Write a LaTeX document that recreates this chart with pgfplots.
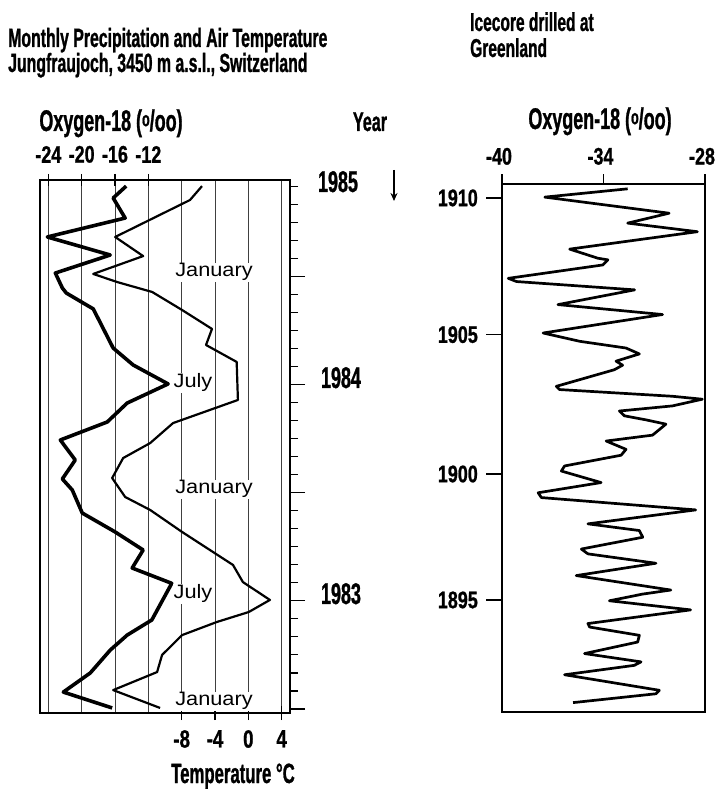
\documentclass[border=0pt]{standalone}
\usepackage{fontspec}
\setmainfont{Liberation Sans}
\newfontfamily\condA{Liberation Sans}[UprightFont={* Bold}, FakeStretch=0.6, FakeBold=0.9]
\newfontfamily\condB{Liberation Sans}[UprightFont={* Bold}, FakeStretch=0.75, FakeBold=0.9]
\newfontfamily\labf{Liberation Sans}[FakeStretch=1.12]
\usepackage{pgfplots}
\pgfplotsset{compat=1.18}
\usetikzlibrary{arrows.meta}
\newcommand{\ca}[1]{\condA\fontsize{#1}{#1}\selectfont}
\newcommand{\cb}[1]{\condB\fontsize{#1}{#1}\selectfont}
\newcommand{\permil}{(\raisebox{0.3ex}{\fontsize{21}{21}\selectfont o}/oo)}
\begin{document}
\begin{tikzpicture}
\path[use as bounding box] (0,0) rectangle (716bp,790bp);

% ---------------- left panel: main axis with data ----------------
\begin{axis}[
  at={(40bp,77bp)}, anchor=south west, scale only axis,
  width=250bp, height=533bp,
  xmin=-25, xmax=5, ymin=-0.22, ymax=29.34,
  xtick={-24,-20,-16,-12,-8,-4,0,4}, xticklabels={},
  xmajorgrids, grid style={black!75, line width=0.8bp},
  xtick style={draw=none},
  ytick={0,...,29}, yticklabels={}, ytick pos=right,
  tick align=outside, major tick length=8bp,
  ytick style={line width=1.1bp, black},
  extra y ticks={0,6,12,18,24}, extra y tick labels={},
  extra y tick style={major tick length=15bp, ytick style={line width=1.3bp}},
  axis line style={line width=2.2bp},
  clip=false,
]
% Oxygen-18 (thick)
\addplot[black, line width=3.6bp, line join=round] coordinates {
(-14.66,29.0) (-16.22,28.34) (-14.78,27.23) (-24.12,26.18) (-16.57,25.18)
(-23.16,24.18) (-22.32,23.35) (-21.84,23.07) (-18.61,22.19) (-16.22,20.02)
(-13.82,19.08) (-9.63,18.03) (-14.54,16.97) (-16.93,15.92) (-22.56,14.92)
(-20.77,13.81) (-22.32,12.76) (-21.13,12.15) (-19.93,10.87) (-15.98,9.82)
(-12.62,8.82) (-13.94,7.82) (-9.19,6.97) (-11.58,4.94) (-14.54,4.10)
(-16.57,3.27) (-18.97,2.0) (-22.2,0.94) (-16.34,0.06)
};
% Air temperature (thin)
\addplot[black, line width=2.2bp, line join=round] coordinates {
(-5.56,29.0) (-7.0,28.23) (-15.98,26.18) (-12.62,25.12) (-18.61,24.13)
(-15.74,23.68) (-11.54,23.13) (-7.95,22.13) (-4.36,21.08) (-5.08,20.19)
(-1.40,19.25) (-1.25,17.14) (-9.03,15.86) (-11.78,14.75) (-15.02,13.92)
(-16.34,12.81) (-14.78,11.76) (-11.78,11.04) (-7.95,9.82) (-1.84,7.99)
(-0.65,7.04) (2.59,6.05) (0.05,5.38) (-3.76,4.83) (-7.95,4.10)
(-10.35,3.0) (-10.95,2.05) (-16.22,1.05) (-10.59,0.06)
};
\end{axis}

% top ticks of left panel (Oxygen-18)
\begin{axis}[
  at={(40bp,77bp)}, anchor=south west, scale only axis,
  width=250bp, height=533bp,
  xmin=-25, xmax=5, ymin=-0.22, ymax=29.34,
  hide y axis, axis line style={line width=2.2bp},
  xtick={-24,-20,-16,-12}, xticklabels={-24,-20,-16,-12},
  xtick pos=upper, xticklabel pos=upper,
  tick align=center, major tick length=12bp,
  xtick style={line width=1.4bp, black},
  xticklabel style={font=\cb{24}, inner sep=0pt, anchor=south, yshift=11bp},
]
\end{axis}

% bottom ticks of left panel (Temperature)
\begin{axis}[
  at={(40bp,77bp)}, anchor=south west, scale only axis,
  width=250bp, height=533bp,
  xmin=-25, xmax=5, ymin=-0.22, ymax=29.34,
  hide y axis, axis line style={line width=2.2bp},
  xtick={-8,-4,0,4}, xticklabels={-8,-4,0,4},
  xtick pos=lower, xticklabel pos=lower,
  tick align=center, major tick length=14bp,
  xtick style={line width=1.4bp, black},
  xticklabel style={font=\cb{25}, inner sep=0pt, anchor=north, yshift=-10bp},
]
\end{axis}

% ---------------- right panel: ice core ----------------
\begin{axis}[
  at={(502bp,78bp)}, anchor=south west, scale only axis,
  width=203bp, height=528bp,
  xmin=-40, xmax=-28, ymin=1890.82, ymax=1910.52,
  axis line style={line width=2bp},
  xtick={-40,-34,-28}, xticklabels={-40,-34,-28},
  xtick pos=upper, xticklabel pos=upper,
  tick align=outside, major tick length=10bp,
  xtick style={line width=1.4bp, black},
  xticklabel style={font=\cb{24}, inner sep=0pt, anchor=south, yshift=9bp, xshift=-3bp},
  ytick=\empty, ytick pos=left,
  extra y ticks={1910,1904.9,1899.7,1895},
  extra y tick labels={1910,1905,1900,1895},
  extra y tick style={major tick length=16bp, ytick style={line width=1.4bp, black},
     yticklabel style={font=\cb{24}, inner sep=0pt, anchor=east, xshift=-8bp}},
  clip=false,
]
\addplot[black, line width=2.7bp, line join=round] coordinates {
(-32.57,1910.34) (-37.47,1910.03) (-30.12,1909.43) (-32.57,1909.06) (-28.45,1908.74)
(-36.0,1908.09) (-34.33,1907.75) (-33.74,1907.69) (-34.04,1907.5) (-39.63,1907.0)
(-39.14,1906.88) (-32.16,1906.57) (-36.69,1906.02) (-30.51,1905.65) (-37.57,1904.96)
(-35.4,1904.65) (-32.67,1904.40) (-31.88,1904.18) (-33.26,1903.91) (-32.87,1903.76)
(-33.36,1903.59) (-36.79,1902.97) (-36.59,1902.85) (-29.93,1902.60) (-28.16,1902.49)
(-29.93,1902.24) (-33.06,1902.05) (-32.76,1901.87) (-31.49,1901.72) (-30.31,1901.56)
(-31.1,1901.15) (-33.84,1900.93) (-32.67,1900.62) (-32.96,1900.40) (-36.3,1900.00)
(-36.49,1899.81) (-34.14,1899.38) (-37.86,1899.00) (-37.67,1898.82) (-28.55,1898.36)
(-34.92,1897.84) (-31.88,1897.59) (-31.68,1897.34) (-35.31,1896.90) (-34.92,1896.72)
(-30.9,1896.37) (-35.61,1895.91) (-30.02,1895.37) (-31.68,1895.22) (-33.65,1894.97)
(-28.85,1894.63) (-34.92,1894.12) (-34.82,1893.99) (-31.88,1893.68) (-31.98,1893.43)
(-35.12,1893.00) (-31.78,1892.69) (-32.18,1892.56) (-36.3,1892.21) (-30.7,1891.63)
(-30.9,1891.50) (-35.8,1891.17)
};
\end{axis}

% ---------------- texts ----------------
\node[anchor=base west, inner sep=0pt, font=\ca{26.5}] at (8bp,743bp) {Monthly Precipitation and Air Temperature};
\node[anchor=base west, inner sep=0pt, font=\ca{26.5}] at (8bp,718bp) {Jungfraujoch, 3450 m a.s.l., Switzerland};
\node[anchor=base west, inner sep=0pt, font=\ca{26}] at (470bp,759bp) {Icecore drilled at};
\node[anchor=base west, inner sep=0pt, font=\ca{26}] at (470bp,733bp) {Greenland};

\node[anchor=base, inner sep=0pt, font=\ca{30}] at (111bp,659bp) {Oxygen-18 \permil};
\node[anchor=base, inner sep=0pt, font=\ca{27}] at (370bp,659bp) {Year};
\node[anchor=base, inner sep=0pt, font=\ca{30}] at (600bp,661bp) {Oxygen-18 \permil};

\node[anchor=base, inner sep=0pt, font=\ca{30}] at (338bp,598bp) {1985};
\node[anchor=base, inner sep=0pt, font=\ca{30}] at (341bp,402bp) {1984};
\node[anchor=base, inner sep=0pt, font=\ca{30}] at (341bp,186bp) {1983};
\draw[line width=1.8bp, -{Stealth[length=8bp,width=7bp]}] (394bp,620bp) -- (394bp,589bp);

\node[anchor=base, inner sep=0pt, font=\ca{28}] at (233bp,7bp) {Temperature °C};

\node[anchor=base, inner sep=1pt, fill=white, font=\labf\fontsize{19.5}{20}\selectfont] at (214bp,513bp) {January};
\node[anchor=base, inner sep=1pt, fill=white, font=\labf\fontsize{19.5}{20}\selectfont] at (193bp,402bp) {July};
\node[anchor=base, inner sep=1pt, fill=white, font=\labf\fontsize{19.5}{20}\selectfont] at (214bp,296bp) {January};
\node[anchor=base, inner sep=1pt, fill=white, font=\labf\fontsize{19.5}{20}\selectfont] at (193bp,191bp) {July};
\node[anchor=base, inner sep=1pt, fill=white, font=\labf\fontsize{19.5}{20}\selectfont] at (214bp,84bp) {January};
\end{tikzpicture}
\end{document}
